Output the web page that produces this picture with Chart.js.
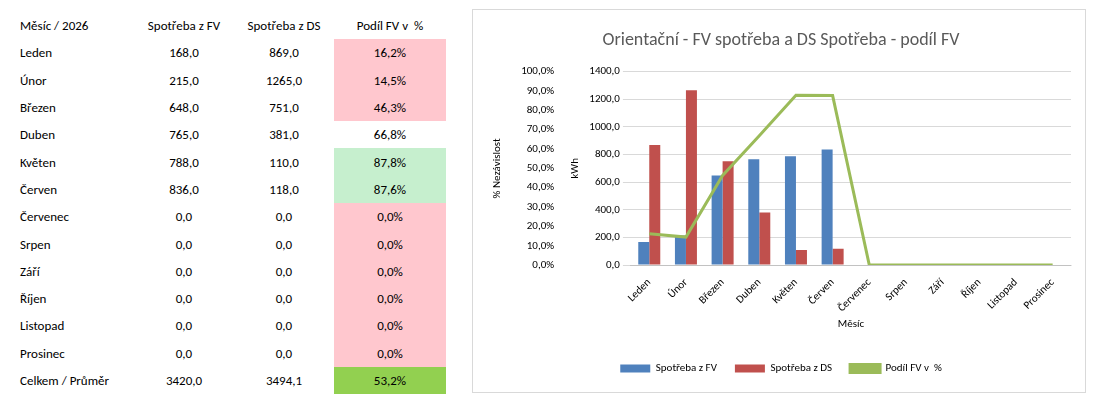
<!DOCTYPE html>
<html><head><meta charset="utf-8">
<script src="https://cdn.jsdelivr.net/npm/chart.js@4"></script>
<style>
body{margin:0;background:#fff;font-family:Calibri,Carlito,"Liberation Sans",sans-serif;font-size:13px;color:#000}
table{position:absolute;left:14px;top:12px;border-collapse:collapse}
td{height:27.3px;padding:0 6px;white-space:nowrap}
td.n{text-align:center}
.c1{width:108px}.c2{width:88px}.c3{width:88px}.c4{width:100px}
.pink{background:#ffc7ce}.green{background:#c6efce}.tot{background:#92d050}
#box{position:absolute;left:472px;top:9px;width:612px;height:382px;border:1px solid #d9d9d9}
</style></head><body>
<table id="tbl"></table>
<div id="box"><canvas id="c"></canvas></div>
<script>
const months = ['Leden','Únor','Březen','Duben','Květen','Červen','Červenec','Srpen','Září','Říjen','Listopad','Prosinec'];
const fv = [168.0,215.0,648.0,765.0,788.0,836.0,0,0,0,0,0,0];
const ds = [869.0,1265.0,751.0,381.0,110.0,118.0,0,0,0,0,0,0];
const share = [16.2,14.5,46.3,66.8,87.8,87.6,0,0,0,0,0,0];
const totals = ['3420,0','3494,1','53,2%'];

const fmt = v => v.toFixed(1).replace('.', ',');
let html = '<tr><td class="c1">Měsíc / 2026</td><td class="n c2">Spotřeba z FV</td><td class="n c3">Spotřeba z DS</td><td class="n c4">Podíl FV v &nbsp;%</td></tr>';
months.forEach(function(m, i) {
    const cls = share[i] < 50 ? 'pink' : (share[i] > 80 ? 'green' : '');
    html += `<tr><td>${m}</td><td class="n">${fmt(fv[i])}</td><td class="n">${fmt(ds[i])}</td><td class="n ${cls}">${fmt(share[i])}%</td></tr>`;
});
html += `<tr><td>Celkem / Průměr</td><td class="n">${totals[0]}</td><td class="n">${totals[1]}</td><td class="n tot">${totals[2]}</td></tr>`;
document.getElementById('tbl').innerHTML = html;

const font = {family: 'Calibri, Carlito, "Liberation Sans", sans-serif', size: 11};
new Chart(document.getElementById('c'), {
    type: 'bar',
    data: {
        labels: months,
        datasets: [
            {label: 'Spotřeba z FV', data: fv, backgroundColor: '#4f81bd', yAxisID: 'y', order: 2},
            {label: 'Spotřeba z DS', data: ds, backgroundColor: '#c0504d', yAxisID: 'y', order: 2},
            {label: 'Podíl FV v  %', type: 'line', data: share, borderColor: '#9bbb59', backgroundColor: '#9bbb59',
             borderWidth: 3, pointRadius: 0, yAxisID: 'y1', order: 1}
        ]
    },
    options: {
        responsive: true, maintainAspectRatio: false, animation: false,
        layout: {padding: {left: 18, right: 14, top: 4, bottom: 8}},
        plugins: {
            title: {display: true, text: 'Orientační - FV spotřeba a DS Spotřeba - podíl FV',
                    color: '#595959', font: {family: font.family, size: 18, weight: 'normal'}, padding: {top: 16, bottom: 20}},
            legend: {position: 'bottom', labels: {boxWidth: 30, boxHeight: 8, padding: 18, font: font, color: '#000',
                     sort: (a, b) => a.datasetIndex - b.datasetIndex}}
        },
        datasets: {bar: {categoryPercentage: 0.6, barPercentage: 1}},
        scales: {
            x: {grid: {display: false}, ticks: {font: font, color: '#000', maxRotation: 45, minRotation: 45},
                title: {display: true, text: 'Měsíc', font: font, color: '#000', padding: {top: 0, bottom: 14}}},
            y: {position: 'left', min: 0, max: 1400, weight: 1,
                ticks: {stepSize: 200, font: font, color: '#000', callback: v => fmt(v)},
                grid: {color: '#d9d9d9'}, border: {display: false},
                title: {display: true, text: 'kWh', font: font, color: '#000'}},
            y1: {position: 'left', min: 0, max: 100, weight: 2,
                ticks: {stepSize: 10, font: font, color: '#000', callback: v => fmt(v) + '%'},
                grid: {display: false}, border: {display: false},
                title: {display: true, text: '% Nezávislost', font: font, color: '#000', padding: {top: 0, bottom: 14}}}
        }
    }
});
</script>
</body></html>
